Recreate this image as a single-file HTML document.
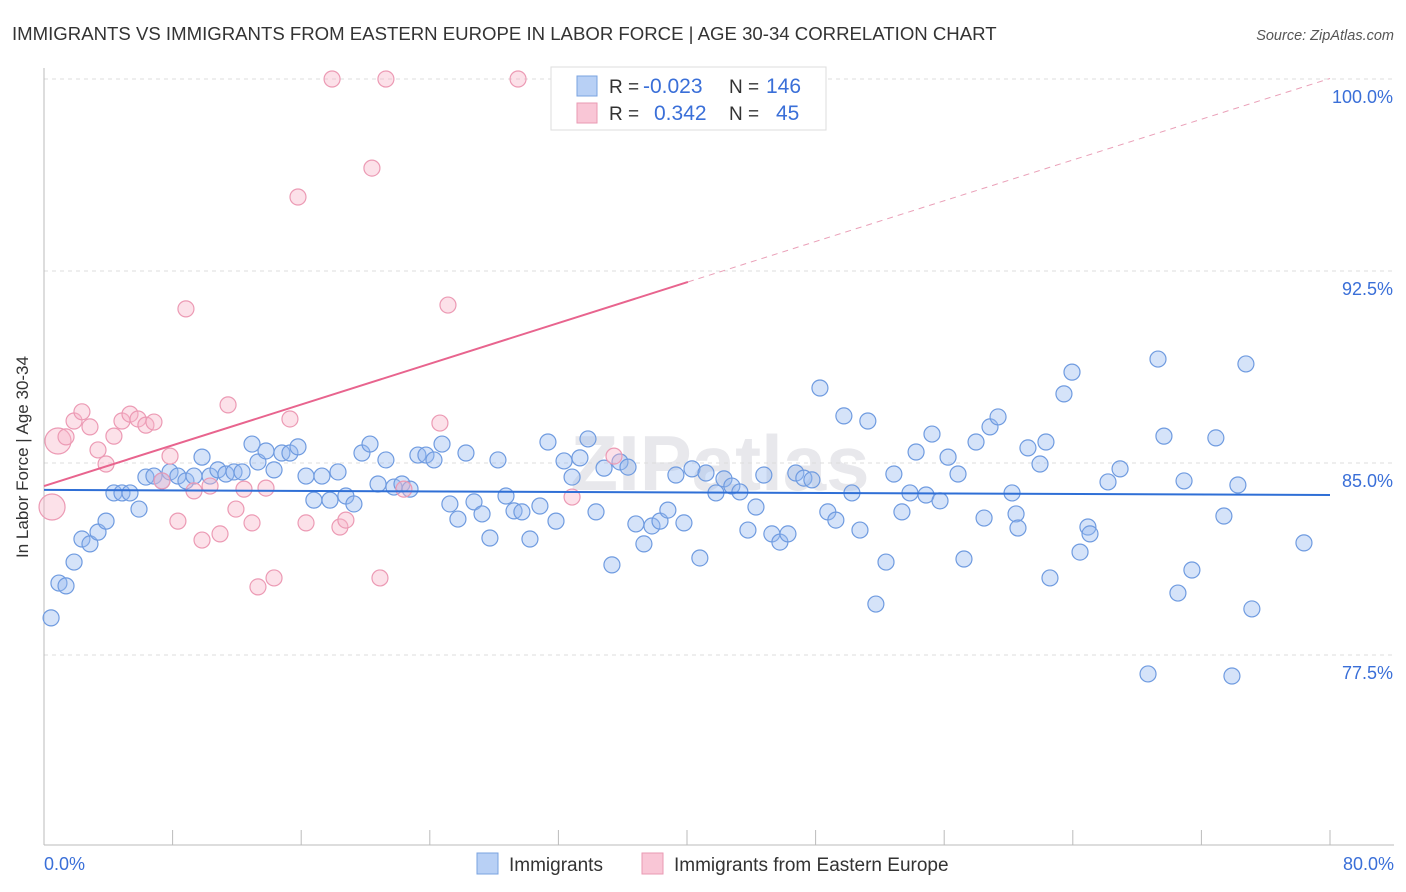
<!DOCTYPE html>
<html><head><meta charset="utf-8"><style>
body{margin:0;background:#fff;font-family:"Liberation Sans",sans-serif;}
svg{display:block}
</style></head><body>
<svg id="chart" width="1406" height="892">
<text x="12" y="40" font-size="18.6" fill="#333">IMMIGRANTS VS IMMIGRANTS FROM EASTERN EUROPE IN LABOR FORCE | AGE 30-34 CORRELATION CHART</text>
<text x="1394" y="40" font-size="14.5" fill="#555" font-style="italic" text-anchor="end">Source: ZipAtlas.com</text>
<text x="720" y="490" font-size="78" fill="#e8e8ec" text-anchor="middle" font-weight="bold">ZIPatlas</text>
<g id="grid"></g>
<line x1="44" y1="68" x2="44" y2="845" stroke="#bbb"/>
<line x1="44" y1="845" x2="1394" y2="845" stroke="#bbb"/>
<text x="28" y="457" font-size="17" fill="#333" text-anchor="middle" transform="rotate(-90 28 457)">In Labor Force | Age 30-34</text>
<text x="44" y="870" font-size="18" fill="#3a6fd8">0.0%</text>
<text x="1394" y="870" font-size="18" fill="#3a6fd8" text-anchor="end">80.0%</text>
<g id="points"></g>
<g id="trends"></g>
<g>
<rect x="551" y="67" width="275" height="63" fill="#fff" stroke="#ddd"/>
<rect x="577" y="76" width="20" height="20" fill="#b8d0f5" stroke="#7aa3e0"/>
<rect x="577" y="103" width="20" height="20" fill="#f9c6d6" stroke="#e99ab3"/>
<text x="609" y="93" font-size="19" fill="#333">R =</text>
<text x="643" y="93" font-size="21" fill="#3a6fd8">-0.023</text>
<text x="729" y="93" font-size="19" fill="#333">N =</text>
<text x="766" y="93" font-size="21" fill="#3a6fd8">146</text>
<text x="609" y="120" font-size="19" fill="#333">R =</text>
<text x="654" y="120" font-size="21" fill="#3a6fd8">0.342</text>
<text x="729" y="120" font-size="19" fill="#333">N =</text>
<text x="776" y="120" font-size="21" fill="#3a6fd8">45</text>
</g>
<g>
<rect x="477" y="853" width="21" height="21" fill="#b8d0f5" stroke="#7aa3e0"/>
<text x="509" y="871" font-size="19" fill="#333">Immigrants</text>
<rect x="642" y="853" width="21" height="21" fill="#f9c6d6" stroke="#e99ab3"/>
<text x="674" y="871" font-size="19" fill="#333">Immigrants from Eastern Europe</text>
</g>
</svg>
<script>
const yTicks=[100,92.5,85,77.5];
const yTickLabels=["100.0%","92.5%","85.0%","77.5%"];
const xTickVals=[0,8,16,24,32,40,48,56,64,72,80];
const blueX=[0.44,0.93,1.37,1.87,2.36,2.86,3.36,3.86,4.35,4.85,5.35,5.91,6.34,6.84,7.34,7.84,8.33,8.83,9.33,9.83,10.33,10.82,11.32,11.82,12.32,12.94,13.31,13.81,14.31,14.80,15.30,15.80,16.30,16.79,17.29,17.79,18.29,18.78,19.28,19.78,20.28,20.78,21.27,21.77,22.27,22.77,23.26,23.76,24.26,24.76,25.25,25.75,26.25,26.75,27.25,27.74,28.24,28.74,29.24,29.73,30.23,30.85,31.35,31.85,32.35,32.85,33.34,33.84,34.34,34.84,35.33,35.83,36.33,36.82,37.32,37.82,38.32,38.81,39.31,39.81,40.31,40.80,41.18,41.80,42.30,42.79,43.29,43.79,44.29,44.78,45.28,45.78,46.28,46.77,47.27,47.77,48.27,48.76,49.26,49.76,50.26,50.76,51.25,51.75,52.38,52.87,53.37,53.87,54.25,54.87,55.24,55.74,56.24,56.86,57.23,57.98,58.48,58.85,59.35,60.22,60.47,60.59,61.21,61.96,62.33,62.58,63.45,63.95,64.45,64.94,65.07,66.19,66.94,68.68,69.30,69.67,70.54,70.92,71.41,72.90,73.40,73.90,74.27,74.77,75.14,78.38];
const blueY=[78.95,80.31,80.20,81.13,82.03,81.84,82.30,82.73,83.83,83.83,83.83,83.20,84.45,84.49,84.30,84.65,84.49,84.30,84.49,85.23,84.49,84.73,84.57,84.65,84.65,85.74,85.04,85.47,84.73,85.39,85.39,85.63,84.49,83.55,84.49,83.55,84.65,83.71,83.40,85.39,85.74,84.18,85.12,84.06,84.18,83.98,85.31,85.31,85.12,85.74,83.40,82.81,85.39,83.48,83.01,82.07,85.12,83.71,83.13,83.09,82.03,83.32,85.82,82.73,85.08,84.45,85.20,85.94,83.09,84.80,81.02,85.04,84.84,82.62,81.84,82.54,82.73,83.16,84.53,82.66,84.77,81.29,84.61,83.83,84.38,84.10,83.87,82.38,83.28,84.53,82.23,81.91,82.23,84.61,84.41,84.34,87.93,83.09,82.77,86.84,83.83,82.38,86.64,79.49,81.13,84.57,83.09,83.83,85.43,83.75,86.13,83.52,85.23,84.57,81.25,85.82,82.85,86.41,86.80,83.83,83.01,82.46,85.59,84.96,85.82,80.51,87.70,88.55,81.52,82.50,82.23,84.26,84.77,76.76,89.06,86.05,79.92,84.30,80.82,85.98,82.93,76.68,84.14,88.87,79.30,81.88];
const pinkX=[0.50,0.87,1.37,1.87,2.36,2.86,3.36,3.86,4.35,4.85,5.35,5.85,6.34,6.84,7.34,7.84,8.33,8.83,9.33,9.83,10.33,10.95,11.45,11.94,12.44,12.94,13.31,13.81,14.31,15.30,15.80,16.30,17.92,18.41,18.78,20.40,20.90,21.27,22.39,24.63,25.13,29.49,32.22,32.85,35.46];
const pinkY=[83.28,85.86,86.02,86.64,87.00,86.41,85.51,84.96,86.05,86.64,86.91,86.72,86.48,86.60,84.30,85.27,82.73,91.02,83.91,81.99,84.10,82.23,87.27,83.20,83.98,82.66,80.16,84.02,80.51,86.72,95.39,82.66,100,82.50,82.77,96.52,80.51,100,83.98,86.56,91.17,100,100,83.67,85.27];
const pinkBig=[1,1];
const blueTrend=[83.95,83.75];
const pinkTrend=[84.10,100.02];
const pinkSolidEnd=40.06;

const NS="http://www.w3.org/2000/svg";
function sx(v){return 44+v*(1286/80);}
function sy(v){return 79+(100-v)*25.6;}
function mk(tag,attrs,parent){const e=document.createElementNS(NS,tag);for(const k in attrs)e.setAttribute(k,attrs[k]);parent.appendChild(e);return e;}
const grid=document.getElementById('grid');
yTicks.forEach((t,i)=>{
  const l=mk('line',{x1:44,x2:1394,y1:sy(t),y2:sy(t),stroke:'#ddd','stroke-dasharray':'4 4'},grid);
  
  
  const tx=mk('text',{x:1393,y:sy(t)+24,'font-size':18,fill:'#3a6fd8','text-anchor':'end'},grid);
  tx.textContent=yTickLabels[i];
  
  
});
xTickVals.forEach(v=>{
  const l=mk('line',{x1:sx(v),x2:sx(v),y1:830,y2:845,stroke:'#bbb'},grid);
  
  
});
const pts=document.getElementById('points');
blueX.forEach((x,i)=>{
  const c=mk('circle',{cx:sx(x),cy:sy(blueY[i]),r:8,fill:'rgba(150,185,240,0.4)',stroke:'#6f9be0','stroke-width':1.2},pts);
  
  
});
pinkX.forEach((x,i)=>{
  const c=mk('circle',{cx:sx(x),cy:sy(pinkY[i]),r:pinkBig[i]?13:8,fill:'rgba(248,180,200,0.4)',stroke:'#ec9ab4','stroke-width':1.2},pts);
  
  
});
const tr=document.getElementById('trends');
const bl=mk('line',{x1:sx(0),y1:sy(blueTrend[0]),x2:sx(80),y2:sy(blueTrend[1]),stroke:'#2f6fd6','stroke-width':2},tr);


const pm=pinkTrend[0]+(pinkTrend[1]-pinkTrend[0])*pinkSolidEnd/80;
const pl=mk('line',{x1:sx(0),y1:sy(pinkTrend[0]),x2:sx(pinkSolidEnd),y2:sy(pm),stroke:'#e8648e','stroke-width':2},tr);


const pd=mk('line',{x1:sx(pinkSolidEnd),y1:sy(pm),x2:sx(80),y2:sy(pinkTrend[1]),stroke:'#eaa0b8','stroke-width':1,'stroke-dasharray':'6 5'},tr);


</script>
</body></html>
